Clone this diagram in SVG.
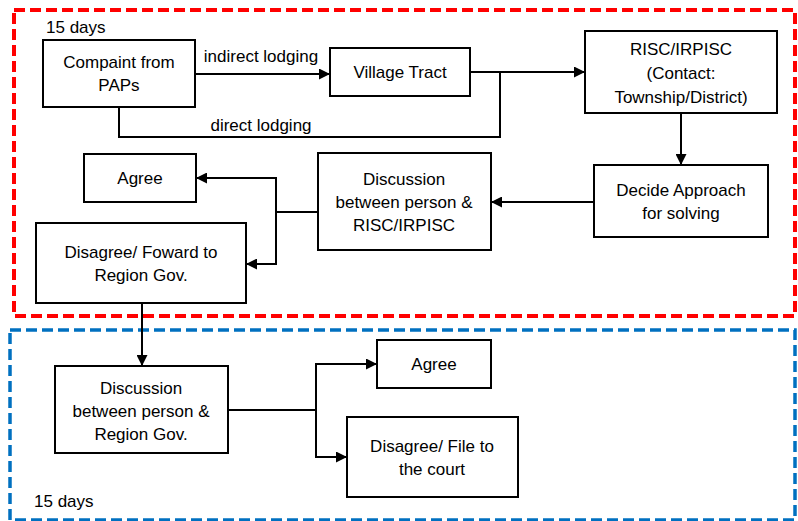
<svg xmlns="http://www.w3.org/2000/svg" width="798" height="521" viewBox="0 0 798 521">
<style>
.box{fill:#fff;stroke:#000;stroke-width:2}
.t{font-family:"Liberation Sans",Arial,sans-serif;font-size:17px;fill:#000;text-anchor:middle}
.tl{font-family:"Liberation Sans",Arial,sans-serif;font-size:17px;fill:#000}
.c{fill:none;stroke:#000;stroke-width:2}
</style>
<defs>
<marker id="ah" markerWidth="11" markerHeight="11" refX="10" refY="5.5" orient="auto" markerUnits="userSpaceOnUse">
<path d="M0,0 L11,5.5 L0,11 Z" fill="#000"/>
</marker>
</defs>
<rect x="14" y="10" width="781" height="306" fill="none" stroke="#ff0000" stroke-width="4" stroke-dasharray="11,5"/>
<rect x="10" y="330" width="785" height="190" fill="none" stroke="#0070c0" stroke-width="3.5" stroke-dasharray="11,5"/>
<text class="tl" x="46" y="33">15 days</text>
<text class="tl" x="34" y="507">15 days</text>
<g id="connectors">
<path class="c" d="M195,74 H329" marker-end="url(#ah)"/>
<path class="c" d="M470,72 H584" marker-end="url(#ah)"/>
<path class="c" d="M119,107 V137 H500 V72"/>
<path class="c" d="M681,113 V164" marker-end="url(#ah)"/>
<path class="c" d="M594,202 H492" marker-end="url(#ah)"/>
<path class="c" d="M318,212 H276"/>
<path class="c" d="M276,212 V178 H197" marker-end="url(#ah)"/>
<path class="c" d="M276,212 V264 H247" marker-end="url(#ah)"/>
<path class="c" d="M142,303 V365" marker-end="url(#ah)"/>
<path class="c" d="M228,410 H316"/>
<path class="c" d="M316,410 V364 H376" marker-end="url(#ah)"/>
<path class="c" d="M316,410 V457 H346" marker-end="url(#ah)"/>
<text class="t" x="261" y="62">indirect lodging</text>
<text class="t" x="261" y="131">direct lodging</text>
</g>
<g id="complaint">
<rect class="box" x="43" y="40" width="152" height="67"/>
<text class="t" x="119" y="68">Compaint from</text>
<text class="t" x="119" y="91">PAPs</text>
</g>
<g id="village">
<rect class="box" x="330" y="48" width="140" height="48"/>
<text class="t" x="400" y="78">Village Tract</text>
</g>
<g id="risc">
<rect class="box" x="585" y="31" width="192" height="82"/>
<text class="t" x="681" y="55">RISC/IRPISC</text>
<text class="t" x="681" y="79">(Contact:</text>
<text class="t" x="681" y="103">Township/District)</text>
</g>
<g id="decide">
<rect class="box" x="594" y="165" width="174" height="72"/>
<text class="t" x="681" y="196">Decide Approach</text>
<text class="t" x="681" y="219">for solving</text>
</g>
<g id="discussion1">
<rect class="box" x="318" y="153" width="173" height="97"/>
<text class="t" x="404" y="185">Discussion</text>
<text class="t" x="404" y="208">between person &amp;</text>
<text class="t" x="404" y="231">RISC/IRPISC</text>
</g>
<g id="agree1">
<rect class="box" x="84" y="154" width="112" height="48"/>
<text class="t" x="140" y="184">Agree</text>
</g>
<g id="disagree1">
<rect class="box" x="36" y="223" width="210" height="80"/>
<text class="t" x="141" y="258">Disagree/ Foward to</text>
<text class="t" x="141" y="281">Region Gov.</text>
</g>
<g id="discussion2">
<rect class="box" x="55" y="366" width="173" height="87"/>
<text class="t" x="141" y="394">Discussion</text>
<text class="t" x="141" y="417">between person &amp;</text>
<text class="t" x="141" y="440">Region Gov.</text>
</g>
<g id="agree2">
<rect class="box" x="377" y="340" width="114" height="48"/>
<text class="t" x="434" y="370">Agree</text>
</g>
<g id="disagree2">
<rect class="box" x="347" y="417" width="171" height="80"/>
<text class="t" x="432" y="452">Disagree/ File to</text>
<text class="t" x="432" y="475">the court</text>
</g>
</svg>
